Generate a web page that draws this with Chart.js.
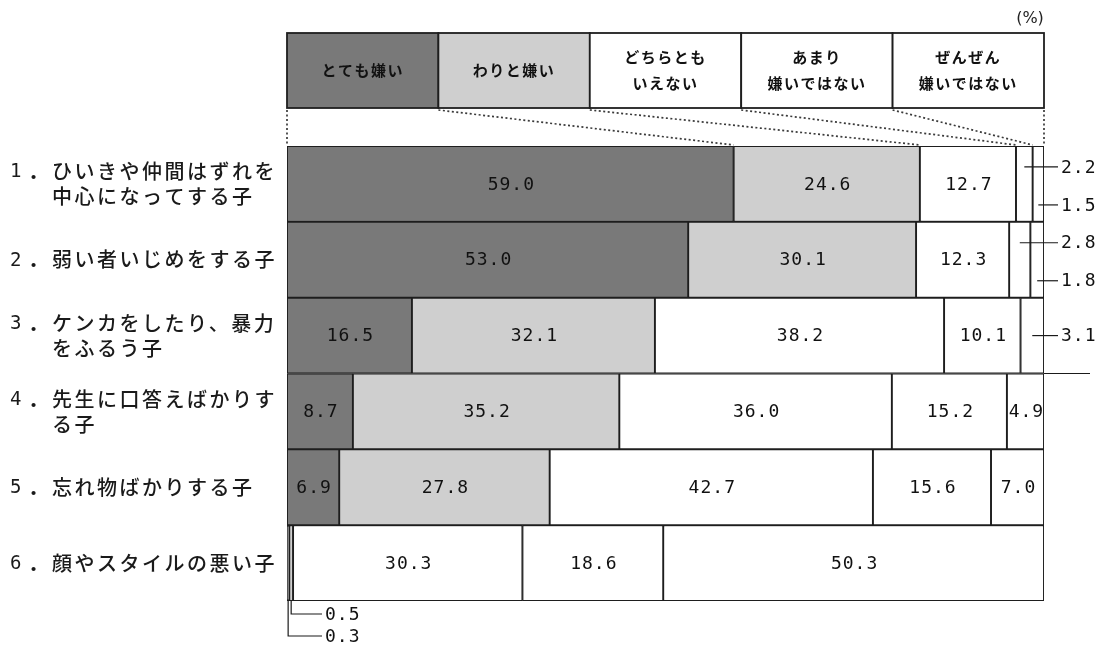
<!DOCTYPE html>
<html>
<head>
<meta charset="utf-8">
<script src="https://cdn.jsdelivr.net/npm/chart.js@4/dist/chart.umd.min.js"></script>
<style>
  html, body { margin: 0; padding: 0; background: #fff; }
  #wrap { width: 1101px; height: 651px; position: relative; }
</style>
</head>
<body>
<div id="wrap"><canvas id="c" width="1101" height="651"></canvas></div>
<script>
// Items (row labels), numbered, with their wrapped lines
const itemNumbers = ['1', '2', '3', '4', '5', '6'];
const itemLines = [
  ['ひいきや仲間はずれを', '中心になってする子'],
  ['弱い者いじめをする子'],
  ['ケンカをしたり、暴力', 'をふるう子'],
  ['先生に口答えばかりす', 'る子'],
  ['忘れ物ばかりする子'],
  ['顔やスタイルの悪い子']
];
const seriesNames = ['とても嫌い', 'わりと嫌い', 'どちらとも\nいえない', 'あまり\n嫌いではない', 'ぜんぜん\n嫌いではない'];

// Answer shares per item (%)
const veryDislike   = [59.0, 53.0, 16.5,  8.7,  6.9,  0.3];
const ratherDislike = [24.6, 30.1, 32.1, 35.2, 27.8,  0.5];
const neither       = [12.7, 12.3, 38.2, 36.0, 42.7, 30.3];
const notMuch       = [ 2.2,  2.8, 10.1, 15.2, 15.6, 18.6];
const notAtAll      = [ 1.5,  1.8,  3.1,  4.9,  7.0, 50.3];
const seriesValues = [veryDislike, ratherDislike, neither, notMuch, notAtAll];

const fills = ['#797979', '#cfcfcf', '#ffffff', '#ffffff', '#ffffff'];
const INK = '#1e1e1e';
const NUM_FONT = '18px "DejaVu Sans Mono", monospace';
const JP_FONT = '"Noto Sans CJK JP", "Noto Sans", sans-serif';

// Legend boxes above the plot, joined to the first bar with dotted lines
const legendBoxes = {
  id: 'legendBoxes',
  afterDraw(chart) {
    const ctx = chart.ctx, a = chart.chartArea;
    const top = 33, bottom = 108;
    const w = (a.right - a.left) / seriesNames.length;
    ctx.save();
    seriesNames.forEach((name, i) => {
      const x = a.left + i * w;
      ctx.fillStyle = fills[i];
      ctx.fillRect(x, top, w, bottom - top);
      ctx.strokeStyle = INK;
      ctx.lineWidth = 1.8;
      ctx.strokeRect(x, top, w, bottom - top);
      const lines = name.split('\n');
      ctx.fillStyle = '#111';
      ctx.font = '600 15px ' + JP_FONT;
      ctx.textAlign = 'center';
      ctx.textBaseline = 'middle';
      if ('letterSpacing' in ctx) ctx.letterSpacing = '1.5px';
      const cy = (top + bottom) / 2;
      lines.forEach((ln, k) => {
        const y = cy + (k - (lines.length - 1) / 2) * 26;
        ctx.fillText(ln, x + w / 2, y);
      });
    });
    // dotted connectors to the first bar's segment boundaries
    const barTop = a.top;
    ctx.setLineDash([2, 2.5]);
    ctx.lineWidth = 1.7;
    ctx.strokeStyle = '#3a3a3a';
    if ('letterSpacing' in ctx) ctx.letterSpacing = '0px';
    for (let i = 0; i <= seriesNames.length; i++) {
      const xs = a.left + i * w;
      let xe;
      if (i === 0) xe = a.left;
      else if (i === seriesNames.length) xe = a.right;
      else xe = chart.getDatasetMeta(i - 1).data[0].x;
      ctx.beginPath();
      ctx.moveTo(xs, bottom + 2);
      ctx.lineTo(xe, barTop - 1);
      ctx.stroke();
    }
    ctx.setLineDash([]);
    ctx.fillStyle = '#222';
    ctx.font = '16px "DejaVu Sans", sans-serif';
    ctx.textAlign = 'center';
    ctx.textBaseline = 'middle';
    ctx.fillText('(%)', a.right - 14, 19);
    ctx.restore();
  }
};

// Row labels to the left of the bars
const itemLabels = {
  id: 'itemLabels',
  afterDraw(chart) {
    const ctx = chart.ctx, y = chart.scales.y;
    ctx.save();
    ctx.fillStyle = '#1a1a1a';
    ctx.textBaseline = 'middle';
    ctx.textAlign = 'left';
    itemLines.forEach((lines, i) => {
      const cy = y.getPixelForValue(i);
      const y0 = cy - (lines.length - 1) * 12.5;
      ctx.font = '19px "DejaVu Sans Mono", monospace';
      if ('letterSpacing' in ctx) ctx.letterSpacing = '0px';
      ctx.fillText(itemNumbers[i], 10, y0 + 1);
      ctx.font = '600 20px ' + JP_FONT;
      ctx.fillText('．', 28, y0 + 1);
      ctx.font = '500 20px ' + JP_FONT;
      if ('letterSpacing' in ctx) ctx.letterSpacing = '2.5px';
      lines.forEach((ln, k) => ctx.fillText(ln, 52, y0 + k * 25));
    });
    ctx.restore();
  }
};

// Values printed inside wide segments, with leader lines for narrow ones
const valueLabels = {
  id: 'valueLabels',
  afterDatasetsDraw(chart) {
    const ctx = chart.ctx, a = chart.chartArea;
    const nRows = itemLines.length;
    ctx.save();
    ctx.font = NUM_FONT;
    if ('letterSpacing' in ctx) ctx.letterSpacing = '1px';
    ctx.fillStyle = '#111';
    ctx.strokeStyle = '#1a1a1a';
    ctx.lineWidth = 1.2;
    ctx.textBaseline = 'middle';
    for (let r = 0; r < nRows; r++) {
      const rightSmall = [];
      const bottomSmall = [];
      seriesValues.forEach((vals, s) => {
        const el = chart.getDatasetMeta(s).data[r];
        const v = vals[r];
        const txt = v.toFixed(1);
        const left = Math.min(el.x, el.base), right = Math.max(el.x, el.base);
        if (v >= 4) {
          ctx.textAlign = 'center';
          ctx.fillText(txt, (left + right) / 2 + 1, el.y + 1);
        } else if (r === nRows - 1) {
          bottomSmall.push({ el, txt, mid: (left + right) / 2 });
        } else {
          rightSmall.push({ el, txt, mid: (left + right) / 2 });
        }
      });
      // leader lines to the right of the bar
      rightSmall.forEach((o, k) => {
        let ly = o.el.y;
        if (rightSmall.length > 1) ly = o.el.y + (k === 0 ? -17 : 21);
        ctx.beginPath();
        ctx.moveTo(o.mid, ly);
        ctx.lineTo(a.right + 14, ly);
        ctx.stroke();
        ctx.textAlign = 'left';
        ctx.fillText(o.txt, a.right + 17, ly + 1);
      });
      // leader lines under the bar (last row), innermost segment reaches lowest
      bottomSmall.forEach((o, k) => {
        const ly = a.bottom + 13 + (bottomSmall.length - 1 - k) * 22;
        ctx.beginPath();
        ctx.moveTo(o.mid, a.bottom);
        ctx.lineTo(o.mid, ly);
        ctx.lineTo(a.left + 35, ly);
        ctx.stroke();
        ctx.textAlign = 'left';
        ctx.fillText(o.txt, a.left + 38, ly + 1);
      });
    }
    // rule continuing past the bars under item 3
    const yb = (chart.getDatasetMeta(0).data[2].y + chart.getDatasetMeta(0).data[3].y) / 2;
    ctx.beginPath();
    ctx.moveTo(a.right, yb);
    ctx.lineTo(a.right + 46, yb);
    ctx.stroke();
    ctx.restore();
  }
};

new Chart(document.getElementById('c'), {
  type: 'bar',
  data: {
    labels: itemLines.map(l => l.join('')),
    datasets: seriesValues.map((vals, i) => ({
      label: seriesNames[i].replace('\n', ''),
      data: vals,
      backgroundColor: fills[i],
      borderColor: INK,
      borderWidth: 1.3,
      borderSkipped: false,
      barPercentage: 1,
      categoryPercentage: 1
    }))
  },
  options: {
    indexAxis: 'y',
    responsive: false,
    animation: false,
    layout: { padding: { left: 287, right: 57, top: 146, bottom: 50 } },
    plugins: { legend: { display: false }, tooltip: { enabled: false } },
    scales: {
      x: { stacked: true, min: 0, max: 100, display: false },
      y: { stacked: true, display: false }
    }
  },
  plugins: [legendBoxes, itemLabels, valueLabels]
});
</script>
</body>
</html>
